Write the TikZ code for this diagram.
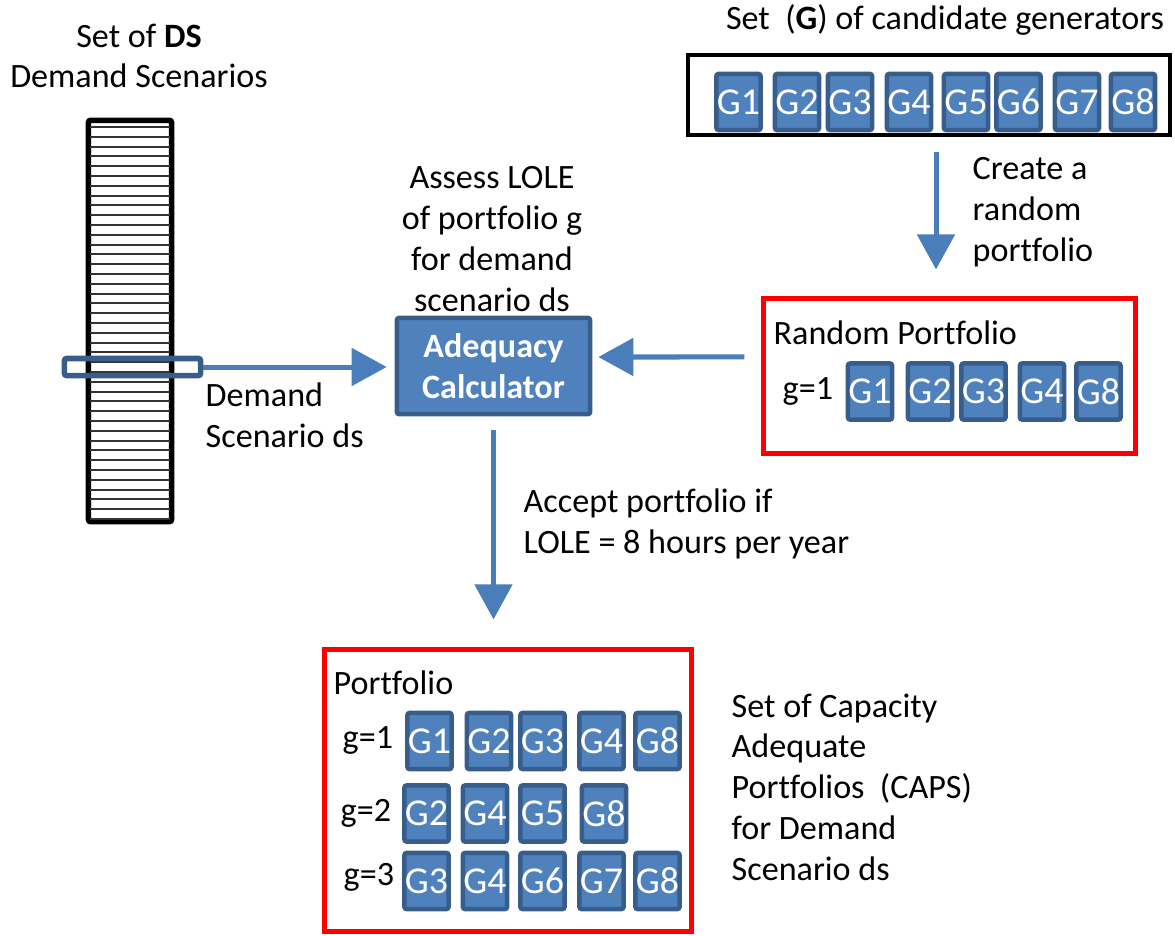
\documentclass[tikz,border=0pt]{standalone}
\usepackage{fontspec}
\setmainfont[Ligatures=NoCommon]{Carlito}
\usepackage{xcolor}
\usepackage{tikz}
\usetikzlibrary{arrows.meta}

\definecolor{genfill}{HTML}{4F81BD}
\definecolor{genedge}{HTML}{385D8A}
\definecolor{flowblue}{HTML}{4A7EBB}
\newcommand{\dsfont}{\fontsize{9.7pt}{11.6pt}\selectfont}

\begin{document}
\begin{tikzpicture}[x=0.01cm, y=-0.01cm,
    every node/.style={inner sep=0pt, font=\dsfont},
    lbl/.style={align=left, anchor=west},
    gen/.style={draw=genedge, fill=genfill, line width=0.045cm, rounded corners=0.02cm, minimum width=0.44cm, minimum height=0.56cm, text=white, font=\fontsize{10.8pt}{12pt}\selectfont},
    redbox/.style={draw=red, line width=0.05cm, minimum width=#1},
    flow/.style={draw=flowblue, line width=0.05cm, -{Triangle[length=0.35cm, width=0.37cm]}}]
    \useasboundingbox (0,0) rectangle (1175,936);

    % demand scenarios
    \node (dstitle) [align=center] at (139,56) {Set of \textbf{DS}\\Demand Scenarios};
    \node (bar) [draw, line width=0.055cm, rounded corners=0.02cm, minimum width=0.83cm, minimum height=4.01cm] at (130,321) {};
    \foreach \k in {0,...,40}
        \draw[black!80, line width=0.02cm] (90,{127+9.8*\k}) -- (170,{127+9.8*\k});
    \node (sel) [draw=genedge, line width=0.055cm, rounded corners=0.02cm, minimum width=1.36cm, minimum height=0.17cm] at (132.5,367) {};
    \node (dslbl) [lbl] at (205,415) {Demand\\Scenario ds};

    % calculator
    \node (assess) [align=center] at (492,239) {Assess LOLE\\of portfolio g\\for demand\\scenario ds};
    \node (calc) [draw=genedge, fill=genfill, line width=0.045cm, rounded corners=0.02cm, minimum width=1.93cm, minimum height=0.96cm, text=white, align=center, font=\dsfont\bfseries] at (493.5,366) {Adequacy\\Calculator};

    % candidate generators
    \node (gtitle) at (945,20) {Set\ \ (\textbf{G}) of candidate generators};
    \node (gset) [draw, line width=0.045cm, minimum width=4.82cm, minimum height=0.80cm] at (929,95) {};
    \foreach \x/\n in {738.5/1, 797/2, 850/3, 909/4, 966/5, 1018.5/6, 1077/7, 1133/8}
        \node (top\n) [gen] at (\x,102) {G\n};
    \node (create) [lbl] at (972,212) {Create a\\random\\portfolio};

    % random portfolio
    \node (rand) [redbox=3.71cm, minimum height=1.54cm] at (949.5,376) {};
    \node (randlbl) [lbl] at (773,333) {Random Portfolio};
    \node (rg1) [lbl] at (782,391) {g=1};
    \foreach \x/\n in {870/1, 930/2, 983.5/3, 1042/4, 1098.5/8}
        \node (rnd\n) [gen] at (\x,391.5) {G\n};

    \node (accept) [lbl] at (523,524) {Accept portfolio if\\LOLE = 8 hours per year};

    % accepted portfolios
    \node (port) [redbox=3.66cm, minimum height=2.81cm] at (508,790.5) {};
    \node (portlbl) [lbl] at (333,683) {Portfolio};
    \node (pg1) [lbl] at (342,740) {g=1};
    \node (pg2) [lbl] at (340,813) {g=2};
    \node (pg3) [lbl] at (343,877) {g=3};
    \foreach \x/\n in {429.5/1, 489/2, 542.5/3, 601.5/4, 657.5/8}
        \node (pa\n) [gen] at (\x,741) {G\n};
    \foreach \x/\n in {426.5/2, 485/4, 542.5/5, 604/8}
        \node (pb\n) [gen] at (\x,813.5) {G\n};
    \foreach \x/\n in {426.5/3, 485/4, 542.5/6, 601.5/7, 657.5/8}
        \node (pc\n) [gen] at (\x,881) {G\n};
    \node (caps) [lbl] at (731,787) {Set of Capacity\\Adequate\\Portfolios\ \ (CAPS)\\for Demand\\Scenario ds};

    % flows
    \draw[flow, shorten >=0.08cm] (sel.east) -- (sel.east -| calc.west);
    \draw[flow, shorten <=0.17cm, shorten >=0.06cm] ([yshift=0.19cm]rand.west) -- ([yshift=0.09cm]calc.east);
    \draw[flow, shorten <=0.15cm, shorten >=0.27cm] ([xshift=0.07cm]gset.south) -- ([xshift=0.07cm]gset.south |- rand.north);
    \draw[flow, shorten <=0.14cm, shorten >=0.28cm] (calc.south) -- (calc.south |- port.north);
\end{tikzpicture}
\end{document}
